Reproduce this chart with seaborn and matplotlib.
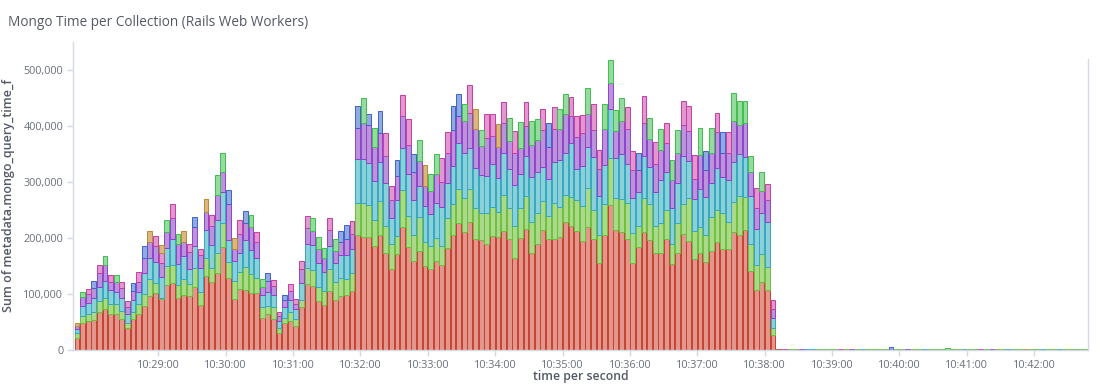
import numpy as np
import pandas as pd
import matplotlib
matplotlib.use("Agg")
import matplotlib.pyplot as plt
import seaborn as sns
from matplotlib.ticker import FuncFormatter, FixedLocator
from matplotlib.colors import to_rgba

# ---------------- data (values in thousands) ----------------
start_sec = 10 * 3600 + 27 * 60 + 45   # first bucket 10:27:45
interval = 5                           # seconds per bucket

red = [21, 49, 52, 54, 67, 73, 65, 64, 55, 39,
       55, 65, 79, 97, 101, 91, 116, 119, 92, 99,
       96, 113, 80, 132, 122, 137, 184, 128, 91, 109,
       108, 102, 102, 58, 64, 55, 30, 48, 52, 43,
       76, 118, 115, 88, 80, 106, 89, 96, 99, 106,
       206, 202, 202, 186, 206, 173, 144, 171, 219, 184,
       159, 176, 150, 145, 159, 151, 183, 206, 226, 211,
       229, 199, 196, 189, 204, 201, 212, 198, 165, 200,
       216, 173, 189, 215, 199, 198, 202, 229, 222, 213,
       195, 219, 198, 156, 205, 259, 214, 211, 199, 156,
       184, 210, 196, 173, 173, 199, 154, 174, 208, 195,
       162, 174, 158, 176, 192, 180, 180, 211, 205, 214,
       141, 108, 122, 108, 26]
lgreen = [10, 11, 13, 13, 20, 20, 18, 19, 15, 10,
          13, 17, 21, 29, 19, 2, 34, 33, 24, 27,
          22, 33, 23, 33, 24, 36, 42, 30, 33, 30,
          41, 33, 26, 18, 15, 21, 10, 10, 16, 12,
          13, 28, 28, 24, 26, 38, 32, 33, 27, 32,
          57, 60, 57, 47, 60, 49, 45, 32, 67, 56,
          47, 62, 43, 41, 41, 35, 52, 54, 61, 61,
          58, 55, 49, 56, 52, 46, 65, 55, 56, 54,
          59, 56, 56, 51, 41, 64, 54, 48, 52, 54,
          63, 71, 52, 50, 55, 83, 57, 59, 63, 53,
          38, 61, 64, 49, 54, 51, 36, 52, 53, 76,
          50, 46, 47, 61, 58, 64, 49, 54, 70, 59,
          48, 44, 49, 41, 13]
cyan = [6, 19, 19, 25, 26, 31, 24, 20, 22, 16,
        21, 22, 37, 38, 38, 37, 33, 46, 37, 42,
        26, 40, 43, 50, 41, 59, 57, 38, 35, 35,
        47, 44, 36, 22, 25, 22, 11, 19, 22, 18,
        31, 43, 44, 44, 33, 42, 34, 41, 44, 42,
        78, 79, 75, 69, 69, 76, 46, 65, 74, 74,
        61, 55, 64, 57, 62, 69, 63, 69, 83, 79,
        74, 71, 67, 66, 76, 61, 75, 71, 74, 61,
        71, 80, 72, 60, 66, 74, 84, 75, 96, 57,
        71, 73, 94, 69, 70, 89, 71, 80, 71, 63,
        61, 76, 66, 61, 76, 68, 63, 72, 85, 66,
        57, 67, 69, 62, 75, 65, 74, 71, 75, 71,
        86, 64, 73, 79, 19]
purple = [6, 15, 16, 18, 25, 27, 15, 19, 18, 12,
          17, 18, 27, 29, 28, 25, 27, 37, 36, 25,
          31, 33, 24, 32, 34, 45, 34, 64, 21, 34,
          31, 40, 28, 15, 20, 17, 10, 13, 15, 10,
          24, 28, 26, 25, 25, 29, 21, 22, 28, 28,
          56, 64, 67, 60, 52, 49, 33, 43, 57, 52,
          51, 44, 36, 41, 52, 45, 54, 63, 47, 58,
          63, 69, 52, 68, 51, 55, 54, 50, 56, 45,
          54, 57, 58, 67, 56, 58, 54, 69, 47, 57,
          58, 59, 49, 49, 64, 46, 49, 59, 61, 49,
          39, 59, 50, 50, 54, 51, 50, 54, 56, 54,
          36, 61, 48, 52, 64, 43, 48, 73, 52, 62,
          42, 38, 40, 39, 16]
pink = [0, 0, 9, 0, 13, 0, 12, 0, 11, 11,
        0, 18, 0, 0, 17, 18, 0, 25, 0, 0,
        15, 0, 11, 0, 20, 0, 0, 0, 0, 24,
        0, 0, 18, 0, 0, 10, 7, 0, 12, 8,
        15, 22, 0, 0, 0, 20, 0, 0, 0, 23,
        0, 0, 0, 0, 0, 40, 24, 0, 38, 46,
        0, 0, 0, 0, 0, 43, 38, 0, 0, 0,
        50, 0, 0, 42, 39, 0, 36, 0, 40, 0,
        42, 0, 0, 37, 0, 40, 0, 0, 35, 37,
        32, 0, 47, 33, 0, 0, 0, 0, 40, 34,
        0, 47, 0, 39, 0, 36, 0, 0, 43, 45,
        43, 0, 0, 0, 35, 0, 38, 0, 0, 0,
        0, 35, 0, 29, 15]
blue = [0, 0, 0, 14, 0, 0, 0, 0, 0, 0,
        13, 0, 22, 0, 0, 0, 0, 0, 0, 0,
        0, 19, 0, 0, 0, 0, 0, 26, 0, 0,
        22, 0, 0, 0, 14, 0, 0, 9, 0, 0,
        0, 0, 0, 0, 0, 0, 0, 20, 26, 0,
        39, 0, 20, 0, 40, 0, 0, 29, 0, 0,
        32, 0, 0, 0, 0, 0, 0, 44, 41, 0,
        0, 0, 0, 0, 0, 0, 0, 0, 0, 0,
        0, 0, 0, 0, 43, 0, 0, 0, 0, 0,
        0, 0, 0, 0, 0, 0, 0, 0, 0, 0,
        29, 0, 0, 0, 0, 0, 0, 0, 0, 0,
        0, 0, 33, 0, 0, 37, 0, 0, 0, 0,
        0, 0, 0, 0, 0]
gold = [6, 0, 0, 0, 0, 0, 0, 0, 0, 0,
        0, 0, 0, 19, 0, 15, 0, 0, 0, 20,
        0, 0, 0, 22, 0, 0, 0, 0, 20, 0,
        0, 0, 0, 0, 0, 0, 0, 0, 0, 0,
        0, 0, 0, 0, 0, 0, 0, 0, 0, 0,
        0, 0, 0, 0, 0, 0, 0, 0, 0, 0,
        0, 0, 37, 0, 0, 0, 0, 0, 0, 0,
        0, 36, 0, 0, 0, 40, 0, 0, 0, 0,
        0, 0, 0, 0, 0, 0, 0, 0, 0, 0,
        0, 0, 0, 0, 0, 0, 0, 0, 0, 0,
        0, 0, 0, 0, 0, 0, 0, 0, 0, 0,
        0, 0, 0, 0, 0, 0, 0, 0, 0, 0,
        0, 0, 0, 0, 0]
green = [0, 10, 0, 0, 0, 17, 0, 12, 0, 0,
         0, 0, 0, 0, 0, 0, 22, 0, 19, 0,
         0, 0, 0, 0, 0, 35, 34, 0, 0, 0,
         0, 22, 0, 13, 0, 0, 0, 0, 0, 0,
         0, 0, 22, 21, 19, 0, 22, 0, 0, 0,
         0, 45, 0, 34, 0, 0, 0, 0, 0, 0,
         0, 38, 0, 31, 36, 0, 0, 0, 0, 30,
         0, 0, 29, 0, 0, 0, 0, 41, 0, 48,
         0, 43, 37, 0, 0, 0, 36, 37, 0, 0,
         0, 45, 0, 0, 46, 41, 37, 41, 0, 0,
         0, 0, 38, 0, 37, 0, 37, 41, 0, 0,
         0, 49, 0, 45, 0, 0, 0, 50, 42, 39,
         29, 0, 34, 0, 0]

# near-empty tail after 10:38:10 (value in thousands, series letter)
tail_vals = [2, 1.5, 1.5, 1.5, 1.5, 2.5, 2.5, 1.5, 1.5, 1.5,
             1.5, 1.5, 1.5, 1.5, 1.5, 1.5, 1.5, 1.5, 1.5, 1.5,
             5, 1.5, 1.5, 1.5, 1.5, 1.5, 1.5, 1.5, 1.5, 1.5,
             3, 1.5, 1.5, 1.5, 1.5, 1.5, 1.5, 1.5, 1.5, 1.5,
             1.5, 1.5, 1.5, 1.5, 2.5, 1.5, 1.5, 1.5, 1.5, 1.5,
             1.5, 1.5, 1.5, 1.5, 1.5, 1.0]
tail_kind = "RMLLPCCLLL" "LMLPLCLLLL" "BLLPLLCLLL" "GLLCLLMLPL" "LCLLOLLCLL" "CLLLLL"

series = {"red": red, "lgreen": lgreen, "cyan": cyan, "purple": purple,
          "pink": pink, "blue": blue, "gold": gold, "green": green}
letter = {"R": "red", "L": "lgreen", "C": "cyan", "P": "purple",
          "M": "pink", "B": "blue", "O": "gold", "G": "green"}

n_main = len(red)
for k, v in series.items():
    assert len(v) == n_main, (k, len(v))
assert len(tail_vals) == len(tail_kind)

fills = {"red": "#e3978c", "lgreen": "#abd98a", "cyan": "#8ad0d8",
         "purple": "#bb93da", "pink": "#e298cf", "blue": "#93a9e2",
         "gold": "#d9b77f", "green": "#95da9e"}
edges = {"red": "#c4402f", "lgreen": "#6cbf3c", "cyan": "#35a8c2",
         "purple": "#8e42cb", "pink": "#c63ca9", "blue": "#3d63c9",
         "gold": "#b98a30", "green": "#3dbf4c"}
bottom_to_top = ["red", "lgreen", "cyan", "purple", "pink", "blue", "gold", "green"]

rows = []
for name, vals in series.items():
    for i, v in enumerate(vals):
        rows.append((start_sec + interval * i + interval / 2, name, v * 1000))
for j, (v, c) in enumerate(zip(tail_vals, tail_kind)):
    rows.append((start_sec + interval * (n_main + j) + interval / 2, letter[c], v * 1000))
df = pd.DataFrame(rows, columns=["t", "series", "v"])

# ---------------- plot ----------------
sns.set_theme(style="white")
plt.rcParams["font.family"] = ["Open Sans", "DejaVu Sans"]

fig = plt.figure(figsize=(11, 3.84), dpi=100)
ax = fig.add_axes([73 / 1100, 34 / 384, (1088 - 73) / 1100, 308 / 384])

n_total = n_main + len(tail_vals)
sns.histplot(data=df, x="t", weights="v", hue="series",
             hue_order=bottom_to_top[::-1], multiple="stack",
             binwidth=interval, binrange=(start_sec, start_sec + interval * n_total),
             palette=fills, alpha=1, shrink=0.86, linewidth=0.7,
             legend=False, ax=ax)

fill_key = {tuple(np.round(to_rgba(c), 3)): n for n, c in fills.items()}
for p in ax.patches:
    if p.get_height() <= 0:
        p.set_visible(False)
        continue
    key = tuple(np.round(p.get_facecolor(), 3))
    name = fill_key.get(key)
    if name is not None:
        p.set_edgecolor(edges[name])

x_end = 10 * 3600 + 42 * 60 + 48
ax.set_xlim(start_sec - 1, x_end)
ax.set_ylim(0, 550000)

ticks = [10 * 3600 + m * 60 for m in range(29, 43)]
ax.xaxis.set_major_locator(FixedLocator(ticks))
ax.xaxis.set_major_formatter(FuncFormatter(
    lambda s, _: f"{int(s) // 3600}:{(int(s) % 3600) // 60:02d}:{int(s) % 60:02d}"))
ax.set_yticks([0, 100000, 200000, 300000, 400000, 500000])
ax.yaxis.set_major_formatter(FuncFormatter(lambda v, _: f"{int(v):,}"))

axis_col = "#d3dae6"
ax.spines["top"].set_visible(False)
for side in ["left", "bottom", "right"]:
    ax.spines[side].set_color(axis_col)
    ax.spines[side].set_linewidth(1.0)
ax.spines["right"].set_bounds(0, 520000)

ax.tick_params(axis="both", which="major", length=4, width=1, color=axis_col,
               labelcolor="#69707d", labelsize=7.8, pad=3)
ax.tick_params(axis="x", bottom=True)
ax.tick_params(axis="y", left=True)

ax.set_ylabel("Sum of metadata.mongo_query_time_f", fontsize=9,
              fontweight="semibold", color="#535966", labelpad=6)
ax.set_xlabel("time per second", fontsize=8.8, fontweight="semibold",
              color="#535966", va="top")
ax.xaxis.set_label_coords(0.5, -0.066)

fig.text(8 / 1100, 1 - 22 / 384, "Mongo Time per Collection (Rails Web Workers)",
         fontsize=9.8, color="#535966", va="center", ha="left")

fig.savefig("out.png", dpi=100)
